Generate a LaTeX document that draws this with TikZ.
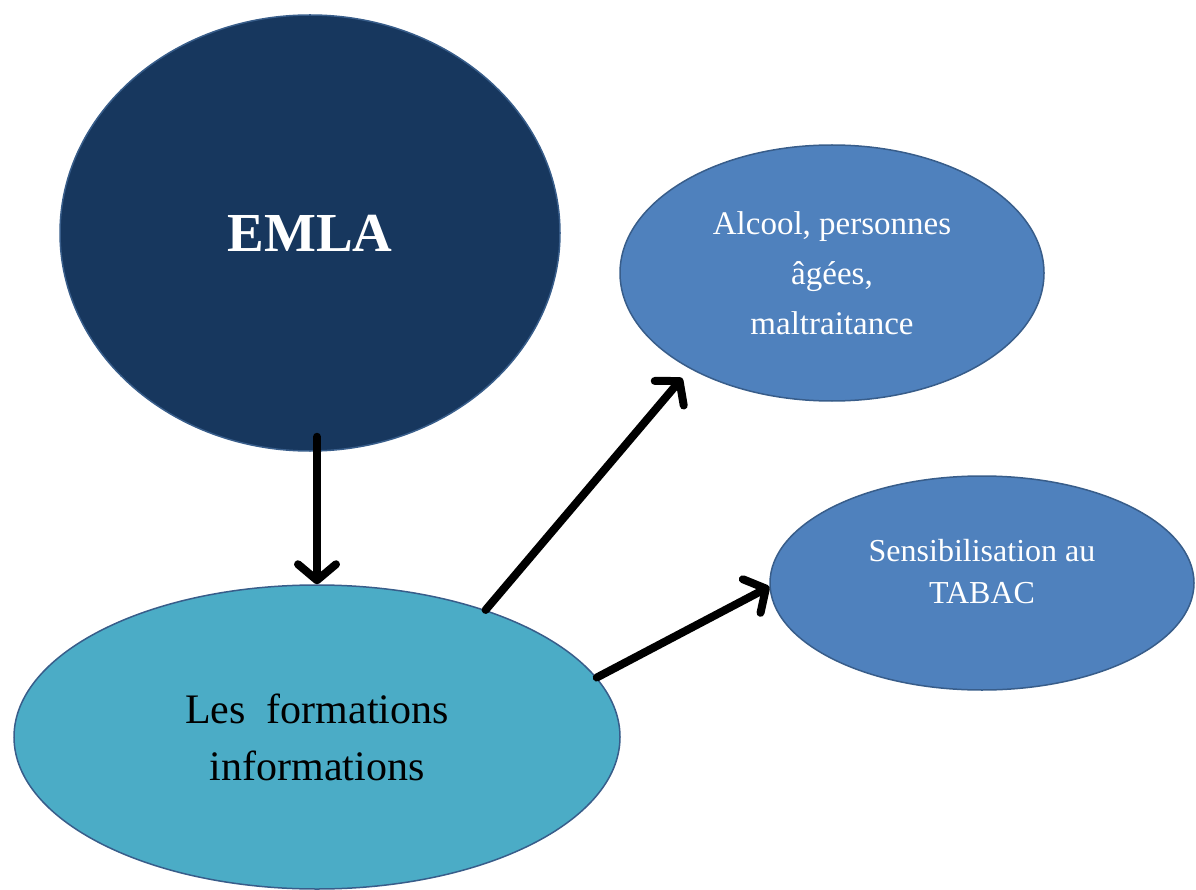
\documentclass[tikz,border=0pt]{standalone}
\usepackage{fontspec}
\setmainfont{Liberation Serif}
\usepackage{tikz}
\usetikzlibrary{shapes.geometric}
\usetikzlibrary{arrows.meta}
\definecolor{navy}{HTML}{17375E}
\definecolor{midblue}{HTML}{4F81BD}
\definecolor{aqua}{HTML}{4BACC6}
\definecolor{rim}{HTML}{385D8A}
\tikzset{bubble/.style={ellipse,draw=rim,line width=1.5pt,inner sep=0pt,align=center},
  link/.style={line width=8pt,line cap=round,line join=round,-{Straight Barb[length=16pt,width=38pt,round]}},}

\begin{document}
\begin{tikzpicture}[x=1pt,y=-1pt]
    \useasboundingbox (0,0) rectangle (1196,890);
    \node[bubble,fill=navy,text=white,minimum width=500pt,minimum height=436pt,font=\fontsize{55}{60}\selectfont\bfseries] (emla) at (310,233) {EMLA};
    \node[bubble,fill=midblue,text=white,minimum width=424pt,minimum height=256pt,font=\fontsize{33}{50}\selectfont] (alc) at (832,273) {Alcool, personnes\\âgées,\\maltraitance};
    \node[bubble,fill=midblue,text=white,minimum width=424pt,minimum height=214pt,font=\fontsize{32}{42}\selectfont] (sens) at (982,583) {Sensibilisation au\\TABAC\\[-18pt]\mbox{}};
    \node[bubble,fill=aqua,text=black,minimum width=606pt,minimum height=304pt,font=\fontsize{42}{57}\selectfont] (form) at (317,737) {Les\ \ formations\\informations};

    \draw[link,shorten <=-15pt] (form.north |- emla.south) -- (form.north);
    \draw[link,shorten >=12pt] (form.37) -- (alc.214);
    \draw[link] (form.12) -- (sens.181);
\end{tikzpicture}
\end{document}
